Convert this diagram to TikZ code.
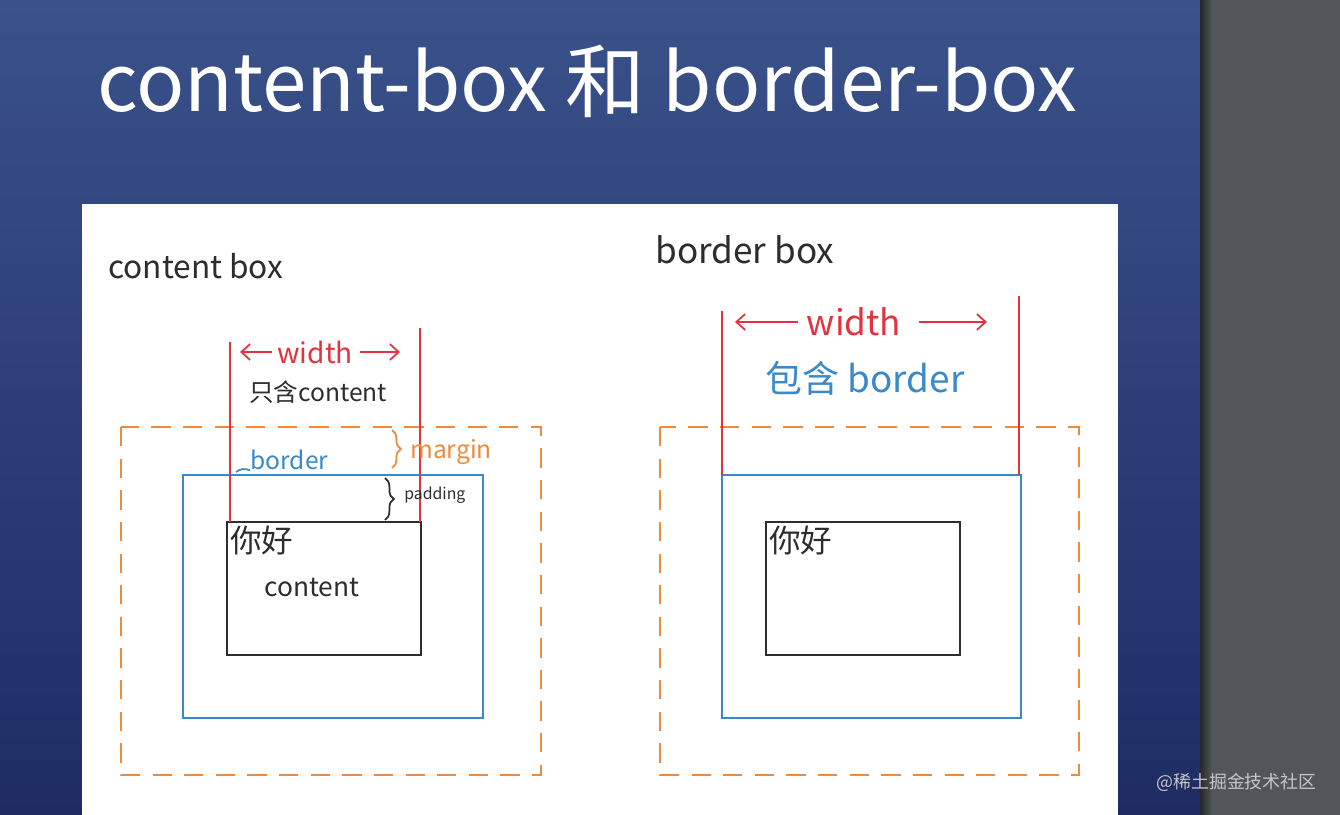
\documentclass[tikz,border=0pt]{standalone}
\usepackage{fontspec}
\setmainfont{Noto Sans CJK SC}
\definecolor{slideblue}{RGB}{58,81,138}
\definecolor{slidenavy}{RGB}{31,44,100}
\definecolor{panelgray}{RGB}{82,86,89}
\definecolor{penred}{RGB}{226,52,64}
\definecolor{penblue}{RGB}{58,137,200}
\definecolor{penorange}{RGB}{236,139,62}
\definecolor{penblack}{RGB}{45,45,45}
\usetikzlibrary{arrows.meta, positioning, decorations.pathreplacing}

\begin{document}
\begin{tikzpicture}[x=0.02cm, y=-0.02cm,
  txt/.style={inner sep=0pt, anchor=west},
  fs/.style={font=\fontsize{#1}{#1}\selectfont},
  marginbox/.style={draw=penorange, line width=1.1pt, dash pattern=on 11pt off 7pt},
  borderbox/.style={draw=penblue, line width=1.3pt},
  contentbox/.style={draw=penblack, line width=1.1pt},
  widthline/.style={draw=penred, line width=1pt},
  warrow/.style={penred, line width=1pt, -{Straight Barb[length=5pt, width=9pt]}},
  pbrace/.style={decorate, decoration={brace, amplitude=5pt}, line width=1pt}
]
  \useasboundingbox (0,0) rectangle (1340,815);
  % slide and side panel
  \shade[top color=slideblue, bottom color=slidenavy] (0,0) rectangle (1200,815);
  \fill[panelgray] (1200,0) rectangle (1340,815);
  \shade[left color=black!55!panelgray, right color=panelgray] (1200,0) rectangle (1212,815);
  \fill[white] (82,204) rectangle (1118,815);

  \node[anchor=base west, inner sep=0pt, text=white, fs=45.5] (title) at (97,111) {content-box 和 border-box};

  % content box
  \node[txt, fs=18, text=penblack] (lhead) at (108,266) {content box};
  \draw[marginbox] (121,427) rectangle (541,775);
  \draw[borderbox] (183,475) rectangle (483,718);
  \draw[contentbox] (227,522) rectangle (421,655);
  \draw[widthline] (230,342) -- (230,522);
  \draw[widthline] (420,328) -- (420,522);

  \node[fs=16, text=penred, inner sep=0pt] (lwidth) at (315,352) {width};
  \coordinate (lwl) at (240,352);
  \coordinate (lwr) at (400,352);
  \draw[warrow] ([xshift=-3pt]lwidth.west) -- (lwl);
  \draw[warrow] ([xshift=4pt]lwidth.east) -- (lwr);
  \node[fs=14, text=penblack, inner sep=0pt] (lonly) at (318,392) {只含content};

  \node[txt, fs=14, text=penblue] (lborder) at (250,460) {border};
  \draw[penblue, line width=1pt] (236,472) to[bend left=30] (lborder.south west);
  \draw[pbrace, penorange] (392,430) -- (392,468);
  \node[txt, fs=14, text=penorange] (lmargin) at (410,452) {margin};
  \draw[pbrace, penblack] (385,478) -- (385,520);
  \node[txt, fs=9, text=penblack] (lpad) at (404,495) {padding};

  \node[anchor=north west, fs=18, inner sep=1pt, text=penblack] (lhello) at (228,524) {你好};
  \node[fs=15, text=penblack] (lcontent) at (312,587) {content};

  % border box
  \node[txt, fs=20, text=penblack] (rhead) at (655,250) {border box};
  \draw[marginbox] (660,427) rectangle (1079,775);
  \draw[borderbox] (722,475) rectangle (1021,718);
  \draw[contentbox] (766,522) rectangle (960,655);
  \draw[widthline] (722,311) -- (722,475);
  \draw[widthline] (1019,296) -- (1019,475);

  \node[fs=20, text=penred, inner sep=0pt] (rwidth) at (854,322) {width};
  \coordinate (rwl) at (735,322);
  \coordinate (rwr) at (987,322);
  \draw[warrow] ([xshift=-5pt]rwidth.west) -- (rwl);
  \draw[warrow] ([xshift=10pt]rwidth.east) -- (rwr);
  \node[fs=21, text=penblue, inner sep=0pt] (rincl) at (865,378) {包含 border};

  \node[anchor=north west, fs=18, inner sep=1pt, text=penblack] (rhello) at (767,524) {你好};

  \node[txt, fs=10.2, text=gray!45] (mark) at (1156,782) {@稀土掘金技术社区};
\end{tikzpicture}
\end{document}
